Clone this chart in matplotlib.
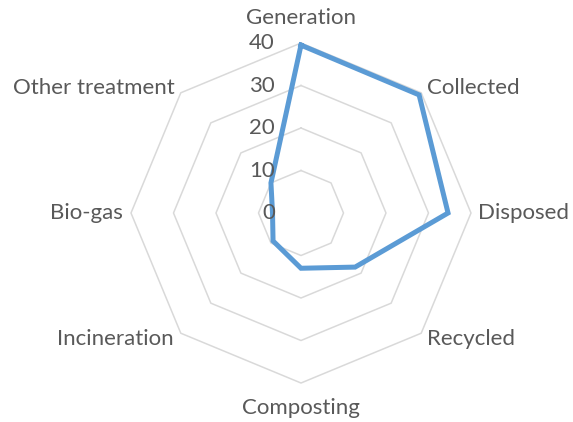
import numpy as np
import matplotlib
matplotlib.use("Agg")
import matplotlib.pyplot as plt
from matplotlib.transforms import offset_copy

categories = ["Generation", "Collected", "Disposed", "Recycled",
              "Composting", "Incineration", "Bio-gas", "Other treatment"]
values = [39.5, 39.3, 34.6, 18.0, 13.0, 9.3, 6.7, 10.0]
levels = [0, 10, 20, 30, 40]
tick_labels = ["0", "10", "20", "30", "40"]

plt.rcParams['font.family'] = ['Lato', 'DejaVu Sans']
txt_color = "#595959"
grid_color = "#D9D9D9"
line_color = "#5B9BD5"
fs = 16

fig = plt.figure(figsize=(5.73, 4.22), dpi=100)
ax = fig.add_axes([0.2286, 0.0924, 0.5934, 0.8057], projection="polar")
ax.set_theta_zero_location("N")
ax.set_theta_direction(-1)
ax.set_ylim(0, 40)
ax.grid(False)
ax.spines["polar"].set_visible(False)
ax.set_xticks([])
ax.set_yticks([])
ax.patch.set_alpha(0)

n = len(categories)
angles = np.linspace(0, 2 * np.pi, n, endpoint=False)
closed = np.concatenate([angles, angles[:1]])

# octagonal grid
for lv in levels[1:]:
    ax.plot(closed, [lv] * (n + 1), color=grid_color, lw=1.1, zorder=1, clip_on=False)

# data
vals = np.array(values + values[:1])
ax.plot(closed, vals, color=line_color, lw=3.6, zorder=3, clip_on=False,
        solid_joinstyle="miter")

# radial tick labels
for lv, lab in zip(levels, tick_labels):
    tr = offset_copy(ax.transData, fig=fig, x=-26, y=0, units="dots")
    ax.text(0, lv, lab, transform=tr, ha="right", va="center",
            fontsize=fs, color=txt_color, zorder=4)

# category labels
offsets = [(0, 25, "center"), (6, 5, "left"), (7, 0, "left"), (6, -6, "left"),
           (0, -25, "center"), (-7, -6, "right"), (-8, 0, "right"), (-6, 5, "right")]
for ang, cat, (dx, dy, ha) in zip(angles, categories, offsets):
    tr = offset_copy(ax.transData, fig=fig, x=dx, y=dy, units="dots")
    ax.text(ang, 40, cat, transform=tr, ha=ha, va="center",
            fontsize=fs, color=txt_color, zorder=4)

fig.savefig("out.png", dpi=100)
